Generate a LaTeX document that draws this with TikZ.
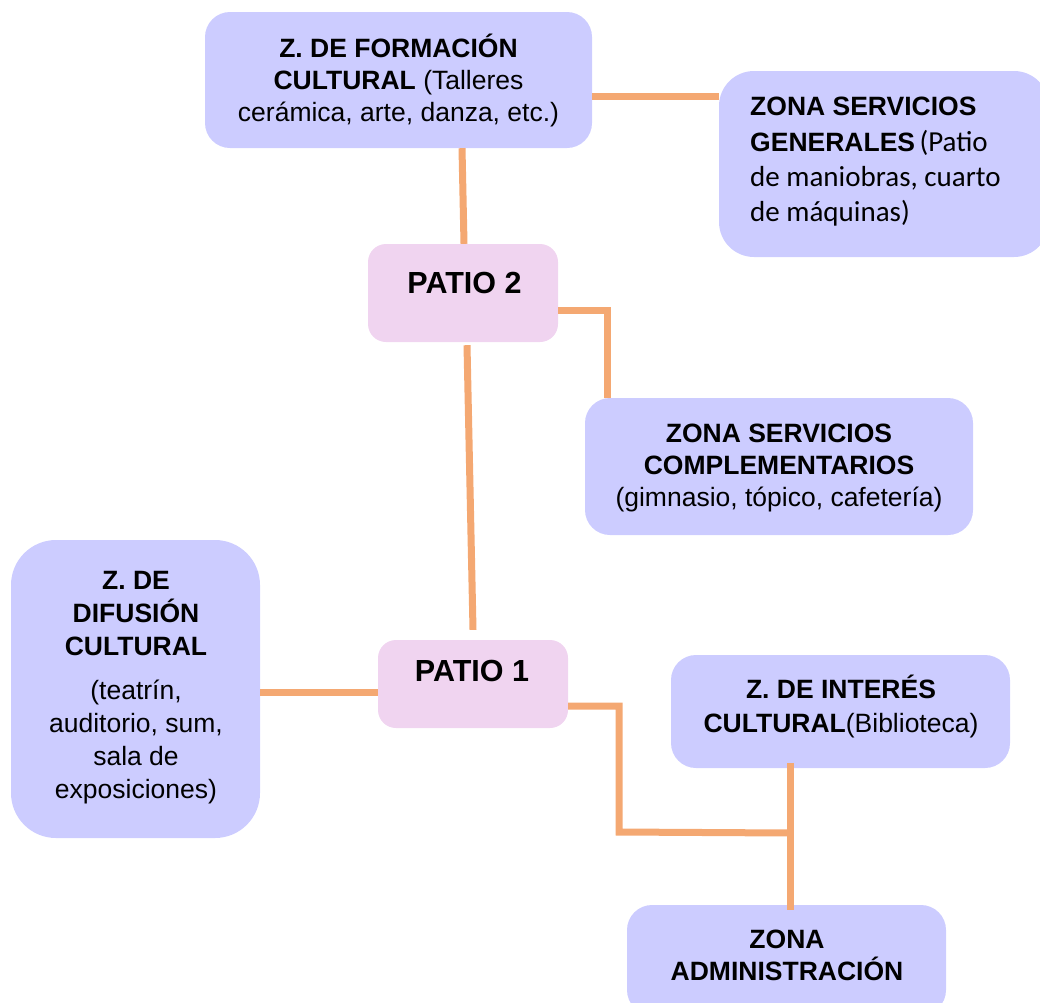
\documentclass[tikz,border=0pt]{standalone}
\usepackage{fontspec}
\setmainfont{Liberation Sans}
\newfontfamily\calib{Carlito}
\definecolor{boxblue}{HTML}{CCCCFF}
\definecolor{boxpink}{HTML}{F0D4F0}
\definecolor{connor}{HTML}{F4A872}
\tikzset{
  zbox/.style={fill=boxblue, draw=none, rounded corners=25pt, inner sep=0pt},
  pbox/.style={fill=boxpink, draw=none, rounded corners=18pt, inner sep=0pt},
  txt/.style={font=\fontsize{26.5}{32}\selectfont, align=center, inner sep=0pt},
  ptxt/.style={font=\fontsize{30.5}{34}\selectfont\bfseries, align=center, inner sep=0pt},
  conn/.style={draw=connor, line width=7pt, line cap=butt, line join=miter}
}
\begin{document}
\begin{tikzpicture}[x=1pt,y=-1pt]
\useasboundingbox (0,0) rectangle (1040,1002);
% boxes
\node[zbox, minimum width=387pt, minimum height=136pt] (fc) at (398.5,80) {};
\node[zbox, rounded corners=35pt, minimum width=330pt, minimum height=186pt] (sg) at (884,164) {};
\node[pbox, minimum width=190pt, minimum height=98pt] (p2) at (463,293) {};
\node[zbox, minimum width=388pt, minimum height=137pt] (sc) at (779,466.5) {};
\node[zbox, rounded corners=45pt, minimum width=249pt, minimum height=298pt] (dc) at (135.5,689) {};
\node[pbox, minimum width=190pt, minimum height=88pt] (p1) at (473,684) {};
\node[zbox, minimum width=339pt, minimum height=113pt] (ic) at (840.5,711.5) {};
\node[zbox, minimum width=319pt, minimum height=110pt] (ad) at (786.5,960) {};
% texts
\node[txt] (tfc) at (398.5,80.5) {\textbf{Z. DE FORMACIÓN}\\\textbf{CULTURAL} (Talleres\\cerámica, arte, danza, etc.)};
\node[txt, align=left, anchor=west, font=\fontsize{26.5}{35.3}\selectfont] (tsg) at (750,162) {\textbf{ZONA SERVICIOS}\\\textbf{GENERALES}\,{\calib\fontsize{29}{35.3}\selectfont(Patio}\\{\calib\fontsize{29}{35.3}\selectfont de maniobras, cuarto}\\{\calib\fontsize{29}{35.3}\selectfont de máquinas)}};
\node[ptxt] (tp2) at (464.5,283) {PATIO 2};
\node[txt] (tsc) at (779,468) {\textbf{ZONA SERVICIOS}\\\textbf{COMPLEMENTARIOS}\\(gimnasio, tópico, cafetería)};
\node[txt, font=\fontsize{26.5}{33}\selectfont] (tdc) at (136,687.5) {\textbf{Z. DE}\\\textbf{DIFUSIÓN}\\\textbf{CULTURAL}\\[11pt](teatrín,\\auditorio, sum,\\sala de\\exposiciones)};
\node[ptxt] (tp1) at (472,671) {PATIO 1};
\node[txt, font=\fontsize{26.5}{34}\selectfont] (tic) at (841,706) {\textbf{Z. DE INTERÉS}\\\textbf{CULTURAL}(Biblioteca)};
\node[txt] (tad) at (787,955) {\textbf{ZONA}\\\textbf{ADMINISTRACIÓN}};
% connectors
\coordinate (k) at (619,832);
\coordinate (j) at (791,833);
\draw[conn] ([yshift=-16pt]fc.east) -- ([yshift=-16pt]fc.east -| sg.west);
\draw[conn] ([xshift=63.5pt]fc.south) -- ([xshift=1pt]p2.north);
\draw[conn] ([yshift=-17pt]p2.east) -| ([xshift=-172pt]sc.north);
\draw[conn] ([xshift=4pt,yshift=-3pt]p2.south) -- ([yshift=10pt]p1.north);
\draw[conn] ([yshift=-8pt]p1.west) -- ([yshift=-8pt]p1.west -| dc.east);
\draw[conn] ([yshift=-22pt]p1.east) -| (k) -- (j);
\draw[conn] ([xshift=-50.5pt,yshift=5pt]ic.south) -- ([xshift=-50.5pt,yshift=-5pt]ic.south |- ad.north);
\end{tikzpicture}
\end{document}
